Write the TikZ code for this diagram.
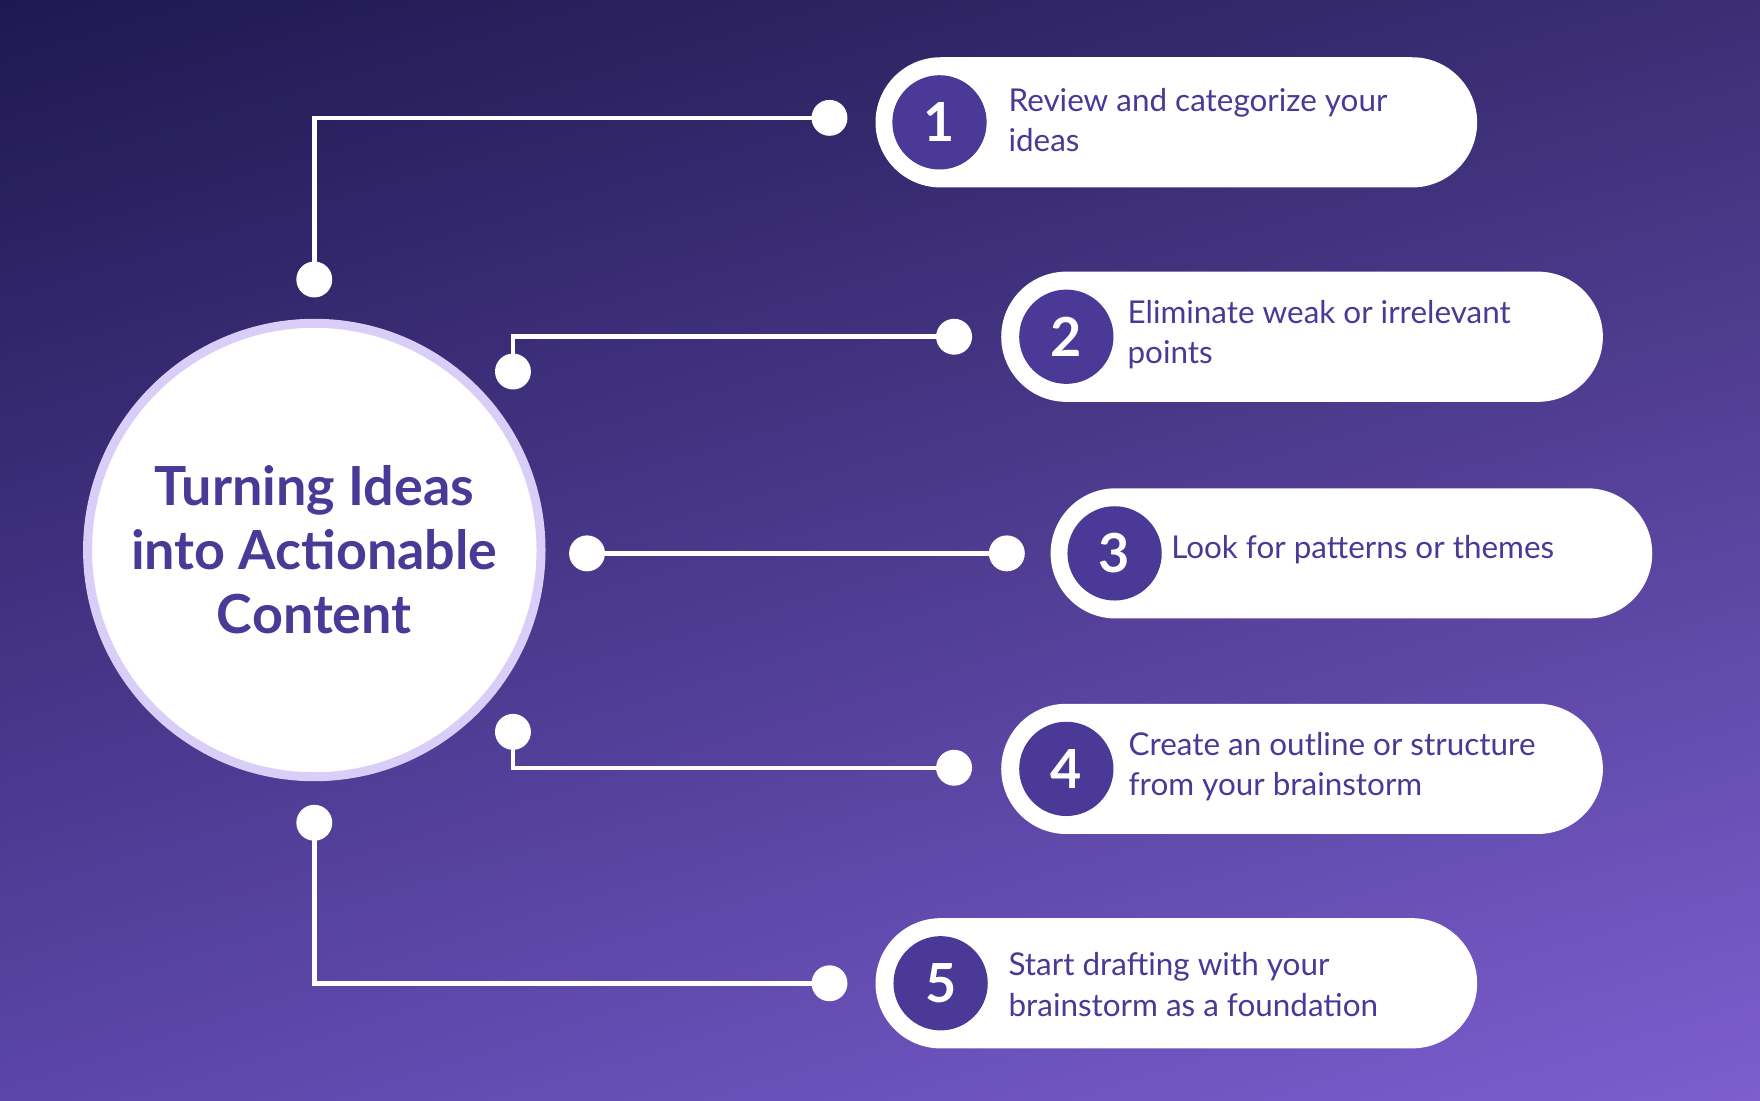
\documentclass[tikz,border=0pt]{standalone}
\usepackage{fontspec}
\setmainfont{Lato}
\usetikzlibrary{positioning,shadings}
\definecolor{deepbg}{HTML}{1F1850}
\definecolor{midbg}{HTML}{3B2E74}
\definecolor{lowbg}{HTML}{5B46A8}
\definecolor{lightbg}{HTML}{7C5ECF}
\definecolor{inkpurple}{HTML}{4A3996}
\definecolor{rimlav}{HTML}{D8CEF8}
\tikzset{
  pill/.style={draw=none,fill=white,rounded corners=58pt,minimum width=536pt,minimum height=116pt},
  numdisc/.style={circle,fill=inkpurple,minimum size=84pt,inner sep=0pt,text=white,font=\fontsize{48}{48}\selectfont\bfseries},
  steptext/.style={anchor=west,align=left,text=inkpurple,font=\fontsize{28}{36}\selectfont},
  dot/.style={circle,fill=white,minimum size=32pt,inner sep=0pt},
  link/.style={draw=white,line width=4pt}
}
\begin{document}
\begin{tikzpicture}[x=1pt,y=-1pt]
  \useasboundingbox (0,0) rectangle (1568,980);
  \shade[upper left=deepbg,upper right=midbg,lower left=lowbg,lower right=lightbg] (0,0) rectangle (1568,980);

  % centre
  \node [circle,fill=white,draw=rimlav,line width=8pt,minimum size=404pt,align=center,
    text=inkpurple,font=\fontsize{48}{57}\selectfont\bfseries] (hub) at (280,490)
    {Turning Ideas\\into Actionable\\Content};

  % steps
  \node [pill] (p1) at (1048,109) {};
  \node [pill] (p2) at (1160,300) {};
  \node [pill] (p3) at (1204,493) {};
  \node [pill] (p4) at (1160,685) {};
  \node [pill] (p5) at (1048,876) {};

  \node [numdisc] (n1) at (837,109) {1};
  \node [numdisc] (n2) at (950,300) {2};
  \node [numdisc] (n3) at (993,493) {3};
  \node [numdisc] (n4) at (950,685) {4};
  \node [numdisc] (n5) at (838,876) {5};

  \node [steptext] (t1) at (895,107) {Review and categorize your\\ideas};
  \node [steptext] (t2) at (1001,298) {Eliminate weak or irrelevant\\points};
  \node [steptext] (t3) at (1040,490) {Look for patterns or themes};
  \node [steptext] (t4) at (1002,683) {Create an outline or structure\\from your brainstorm};
  \node [steptext] (t5) at (895,877) {Start drafting with your\\brainstorm as a foundation};

  % connectors
  \coordinate (k1) at (280,105);
  \coordinate (k2) at (457,300);
  \coordinate (k4) at (457,684);
  \coordinate (k5) at (280,876);
  \node [dot] (a1) at (280,249) {};
  \node [dot] (b1) at (739,105) {};
  \node [dot] (a2) at (457,331) {};
  \node [dot] (b2) at (850,300) {};
  \node [dot] (a3) at (523,493) {};
  \node [dot] (b3) at (897,493) {};
  \node [dot] (a4) at (457,652) {};
  \node [dot] (b4) at (850,684) {};
  \node [dot] (a5) at (280,733) {};
  \node [dot] (b5) at (739,876) {};

  \draw [link] (a1.center) -- (k1) -- (b1.center);
  \draw [link] (a2.center) -- (k2) -- (b2.center);
  \draw [link] (a3.center) -- (b3.center);
  \draw [link] (a4.center) -- (k4) -- (b4.center);
  \draw [link] (a5.center) -- (k5) -- (b5.center);
\end{tikzpicture}
\end{document}
